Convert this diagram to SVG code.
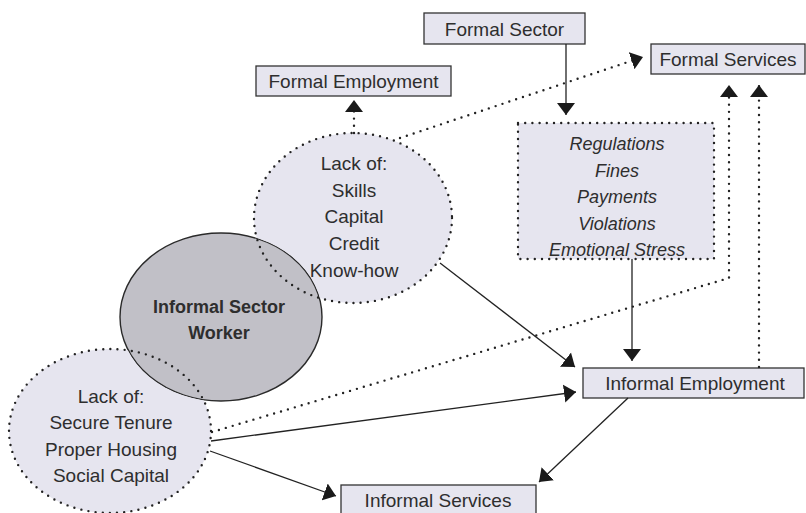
<svg xmlns="http://www.w3.org/2000/svg" width="806" height="513" viewBox="0 0 806 513">
<style>
text{font-family:"Liberation Sans",Arial,sans-serif;fill:#2e2e2e;text-anchor:middle}
.t{font-size:19px}
.b{font-size:18px;font-weight:bold}
.i{font-size:18px;font-style:italic}
.box{fill:#e6e5ef;stroke:#333;stroke-width:1.3}
.dotbox{fill:#e6e5ef;stroke:#222;stroke-width:2.4;stroke-linecap:round;stroke-dasharray:0 7.2}
.efill{fill:#e6e5ef;stroke:none}
.eout{fill:none;stroke:#222;stroke-width:2.4;stroke-linecap:round;stroke-dasharray:0 7.2}
.solid{fill:none;stroke:#222;stroke-width:1.3}
.dotted{fill:none;stroke:#222;stroke-width:2.4;stroke-linecap:round;stroke-dasharray:0 7.2}
</style>
<defs>
<marker id="ah" markerUnits="userSpaceOnUse" markerWidth="13" markerHeight="20" viewBox="0 -10 13 20" refX="12" refY="0" orient="auto">
<path d="M0,-9 L12,0 L0,9 z" fill="#1a1a1a"/>
</marker>
<mask id="noWorker" maskUnits="userSpaceOnUse" x="0" y="0" width="806" height="513">
<rect x="0" y="0" width="806" height="513" fill="#fff"/>
<ellipse cx="221" cy="317" rx="101.5" ry="84.5" fill="#000"/>
</mask>
</defs>
<rect width="806" height="513" fill="#fff"/>

<g id="formal-sector">
<rect class="box" x="424" y="13" width="161" height="31"/>
<text class="t" x="504.5" y="36">Formal Sector</text>
</g>
<g id="formal-employment">
<rect class="box" x="256" y="66" width="195" height="30"/>
<text class="t" x="353.5" y="88">Formal Employment</text>
</g>
<g id="formal-services">
<rect class="box" x="651" y="44" width="154" height="30"/>
<text class="t" x="728" y="66">Formal Services</text>
</g>
<g id="regulations">
<rect class="dotbox" x="518" y="123" width="196" height="136"/>
<text class="i" x="617" y="150">Regulations</text>
<text class="i" x="617" y="177">Fines</text>
<text class="i" x="617" y="203">Payments</text>
<text class="i" x="617" y="230">Violations</text>
<text class="i" x="617" y="256">Emotional Stress</text>
</g>
<g id="informal-employment">
<rect class="box" x="583" y="368" width="221" height="30"/>
<text class="t" x="695" y="390">Informal Employment</text>
</g>
<g id="informal-services">
<rect class="box" x="341" y="485" width="195" height="32"/>
<text class="t" x="438" y="507">Informal Services</text>
</g>

<g id="worker">
<ellipse cx="221" cy="317" rx="101" ry="84" fill="#c1c0c7" stroke="#2a2a2a" stroke-width="1.4"/>
<text class="b" x="219" y="313">Informal Sector</text>
<text class="b" x="219" y="339">Worker</text>
</g>
<g id="lack-skills">
<ellipse class="efill" cx="353" cy="218" rx="99" ry="85" mask="url(#noWorker)"/>
<ellipse class="eout" cx="353" cy="218" rx="99" ry="85"/>
<text class="t" x="354" y="170">Lack of:</text>
<text class="t" x="354" y="197">Skills</text>
<text class="t" x="354" y="223">Capital</text>
<text class="t" x="354" y="250">Credit</text>
<text class="t" x="354" y="277">Know-how</text>
</g>
<g id="lack-housing">
<ellipse class="efill" cx="110" cy="431" rx="101" ry="82" mask="url(#noWorker)"/>
<ellipse class="eout" cx="110" cy="431" rx="101" ry="82"/>
<text class="t" x="111" y="403">Lack of:</text>
<text class="t" x="111" y="429">Secure Tenure</text>
<text class="t" x="111" y="456">Proper Housing</text>
<text class="t" x="111" y="482">Social Capital</text>
</g>

<g id="connectors">
<path class="solid" d="M566,44 V115" marker-end="url(#ah)"/>
<path class="solid" d="M632,259 V361" marker-end="url(#ah)"/>
<path class="solid" d="M440,263 L575,367" marker-end="url(#ah)"/>
<path class="solid" d="M211,441 L576,392" marker-end="url(#ah)"/>
<path class="solid" d="M210,451 L336,496" marker-end="url(#ah)"/>
<path class="solid" d="M628,398 L539,482" marker-end="url(#ah)"/>
<path class="dotted" d="M354,133 V100" marker-end="url(#ah)"/>
<path class="dotted" d="M400,138 L643,57" marker-end="url(#ah)"/>
<path class="dotted" d="M212,432 L729,278 V85" marker-end="url(#ah)"/>
<path class="dotted" d="M759,367 V85" marker-end="url(#ah)"/>
</g>
</svg>
